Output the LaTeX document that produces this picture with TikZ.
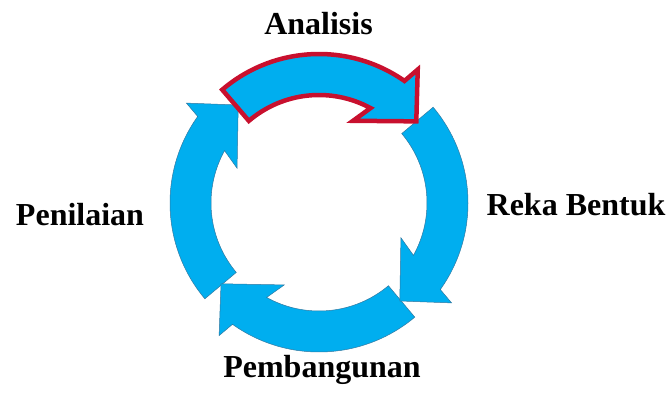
\documentclass[tikz,border=0pt]{standalone}
\usepackage{fontspec}
\setmainfont{Liberation Serif}
\definecolor{cycblue}{RGB}{0,174,239}
\definecolor{cycedge}{RGB}{50,120,160}
\definecolor{cycred}{RGB}{200,16,46}
\newcommand{\cyclearrowpath}[1]{%
  (#1:149pt) arc[start angle=#1, end angle=#1-75.5, radius=149pt]
  -- (#1-77:166pt) -- (#1-90.5:127pt) -- (#1-63:89pt) -- (#1-69:108pt)
  arc[start angle=#1-69, end angle=#1, radius=108pt] -- cycle}
\tikzset{
  bluearrow/.style={fill=cycblue, draw=cycedge, line width=0.5pt, line join=miter},
  redarrow/.style={fill=cycblue, draw=cycred, line width=4.5pt, line join=miter},
  lbl/.style={font=\bfseries\fontsize{32}{36}\selectfont, inner sep=0pt, anchor=base, text=black}
}
\begin{document}
\begin{tikzpicture}
\useasboundingbox (0,0) rectangle (668pt,392pt);
\coordinate (C) at (319pt,189pt);
\begin{scope}[shift={(C)}]
  \path[bluearrow] \cyclearrowpath{220};
  \path[bluearrow] \cyclearrowpath{310};
  \path[bluearrow] \cyclearrowpath{40};
  \path[redarrow] \cyclearrowpath{130.5};
\end{scope}
\node[lbl] (analisis) at (318.5pt,357pt) {Analisis};
\node[lbl] (penilaian) at (80pt,167pt) {Penilaian};
\node[lbl] (reka) at (576pt,177pt) {Reka Bentuk};
\node[lbl] (pemb) at (322pt,15pt) {Pembangunan};
\end{tikzpicture}
\end{document}
